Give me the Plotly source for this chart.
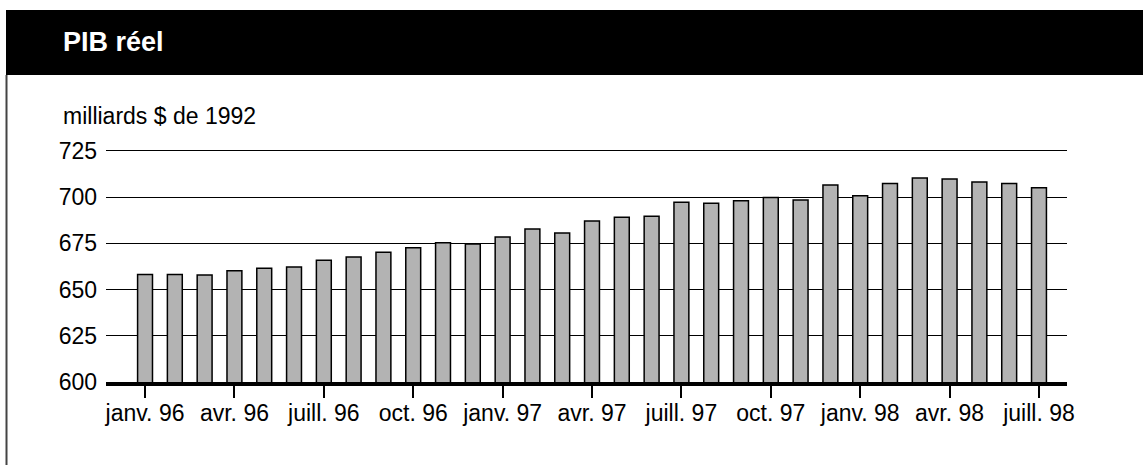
import plotly.graph_objects as go

# ---- data ----
months = [
    "janv. 96", "févr. 96", "mars 96", "avr. 96", "mai 96", "juin 96",
    "juill. 96", "août 96", "sept. 96", "oct. 96", "nov. 96", "déc. 96",
    "janv. 97", "févr. 97", "mars 97", "avr. 97", "mai 97", "juin 97",
    "juill. 97", "août 97", "sept. 97", "oct. 97", "nov. 97", "déc. 97",
    "janv. 98", "févr. 98", "mars 98", "avr. 98", "mai 98", "juin 98",
    "juill. 98",
]
pib = [
    658.2, 658.1, 657.9, 660.2, 661.5, 662.2,
    665.8, 667.6, 670.1, 672.6, 675.3, 674.6,
    678.4, 682.7, 680.6, 687.0, 689.1, 689.7,
    697.2, 696.6, 698.0, 699.8, 698.4, 706.5,
    700.7, 707.4, 710.3, 709.8, 708.1, 707.4,
    705.1,
]
tick_labels = months[::3]
y_ticks = [600, 625, 650, 675, 700, 725]
title_text = "PIB réel"
unit_text = "milliards $ de 1992"

# ---- geometry ----
W, H = 1143, 465
L, R, T, B = 106, 76, 149, 83
PW, PH = W - L - R, H - T - B


def px(x):
    return (x - L) / PW


def py(y):
    return (H - B - y) / PH


FONT = "Liberation Sans, Arial, sans-serif"

fig = go.Figure(
    go.Bar(
        x=months,
        y=pib,
        width=0.5,
        marker=dict(color="#b3b3b3", line=dict(color="black", width=1.5)),
    )
)

fig.update_layout(
    width=W,
    height=H,
    margin=dict(l=L, r=R, t=T, b=B, autoexpand=False),
    paper_bgcolor="white",
    plot_bgcolor="white",
    showlegend=False,
    font=dict(family=FONT, size=23, color="black"),
)

fig.update_xaxes(
    type="category",
    range=[-1.31, 30.94],
    tickmode="array",
    tickvals=tick_labels,
    ticktext=tick_labels,
    ticks="outside",
    ticklen=12,
    tickwidth=1.5,
    tickcolor="black",
    ticklabelstandoff=-5,
    showgrid=False,
    showline=True,
    linecolor="black",
    linewidth=4,
    tickfont=dict(family=FONT, size=23, color="black"),
    tickangle=0,
)

fig.update_yaxes(
    range=[600, 726],
    tickmode="array",
    tickvals=y_ticks,
    showgrid=True,
    gridcolor="black",
    gridwidth=1.2,
    zeroline=False,
    showline=False,
    ticks="",
    ticklabelstandoff=8,
    tickfont=dict(family=FONT, size=23, color="black"),
)

shapes = [
    # black title band
    dict(type="rect", xref="paper", yref="paper",
         x0=px(6), x1=px(1143), y0=py(75), y1=py(10),
         fillcolor="black", line=dict(width=0), layer="above"),
    # left frame line
    dict(type="line", xref="paper", yref="paper",
         x0=px(6.5), x1=px(6.5), y0=py(75), y1=py(465),
         line=dict(color="#444444", width=2)),
]
fig.update_layout(shapes=shapes)

fig.add_annotation(
    text=title_text, xref="paper", yref="paper",
    x=px(61), y=py(42), xanchor="left", yanchor="middle",
    showarrow=False,
    font=dict(family=FONT, size=27, color="white", weight="bold"),
)
fig.add_annotation(
    text=unit_text, xref="paper", yref="paper",
    x=px(61), y=py(116), xanchor="left", yanchor="middle",
    showarrow=False,
    font=dict(family=FONT, size=23, color="black"),
)

fig.write_html(
    "out.html",
    config={"displayModeBar": False},
    post_script="document.body.style.margin='0';document.body.style.overflow='hidden';",
)
